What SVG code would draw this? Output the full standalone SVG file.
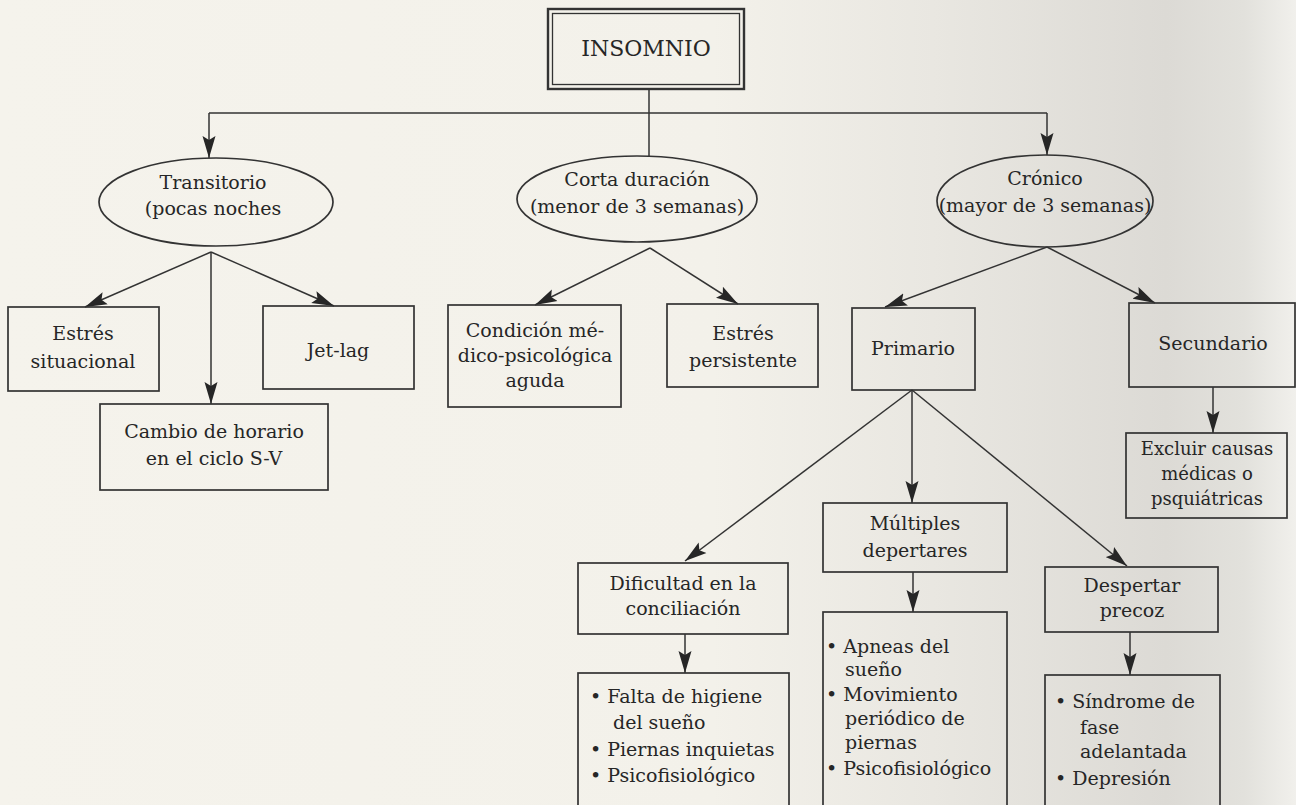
<svg xmlns="http://www.w3.org/2000/svg" width="1296" height="805" viewBox="0 0 1296 805">
<defs>
<linearGradient id="bg" x1="0" y1="0" x2="1296" y2="0" gradientUnits="userSpaceOnUse">
<stop offset="0" stop-color="#f5f3ec"/>
<stop offset="0.55" stop-color="#f3f1ea"/>
<stop offset="0.72" stop-color="#e9e7e1"/>
<stop offset="0.9" stop-color="#dcdad5"/>
<stop offset="0.96" stop-color="#e2e1dc"/>
<stop offset="1" stop-color="#f1f0ec"/>
</linearGradient>
<marker id="ah" markerWidth="23" markerHeight="14" refX="22" refY="7" orient="auto" markerUnits="userSpaceOnUse" viewBox="0 0 23 14">
<path d="M0,0.5 L22,7 L0,13.5 L4,7 Z" fill="#262626"/>
</marker>
<style>
.ln{stroke:#333;stroke-width:1.5;fill:none}
.ar{stroke:#333;stroke-width:1.5;fill:none;marker-end:url(#ah)}
.bx{fill:none;stroke:#333;stroke-width:1.7}
.el{fill:none;stroke:#333;stroke-width:1.7}
text{font-family:"DejaVu Serif","Liberation Serif",serif;font-size:19px;fill:#262626}
.c{text-anchor:middle}
</style>
</defs>
<rect x="0" y="0" width="1296" height="805" fill="url(#bg)"/>

<g id="connectors">
<line class="ln" x1="649" y1="90" x2="649" y2="113"/>
<line class="ln" x1="209" y1="113" x2="1047" y2="113"/>
<line class="ar" x1="209" y1="113" x2="209" y2="158"/>
<line class="ln" x1="649" y1="113" x2="649" y2="156"/>
<line class="ar" x1="1047" y1="113" x2="1047" y2="155"/>
<line class="ar" x1="211" y1="252" x2="85" y2="307"/>
<line class="ar" x1="211" y1="252" x2="211" y2="404"/>
<line class="ar" x1="211" y1="252" x2="334" y2="306"/>
<line class="ar" x1="650" y1="248" x2="535" y2="305"/>
<line class="ar" x1="650" y1="248" x2="738" y2="304"/>
<line class="ar" x1="1047" y1="247" x2="885" y2="307"/>
<line class="ar" x1="1047" y1="247" x2="1155" y2="303"/>
<line class="ar" x1="912" y1="390" x2="685" y2="561"/>
<line class="ar" x1="912" y1="390" x2="912" y2="503"/>
<line class="ar" x1="912" y1="390" x2="1127" y2="566"/>
<line class="ar" x1="1213" y1="387" x2="1213" y2="433"/>
<line class="ar" x1="685" y1="634" x2="685" y2="673"/>
<line class="ar" x1="913" y1="572" x2="913" y2="612"/>
<line class="ar" x1="1130" y1="632" x2="1130" y2="675"/>
</g>

<g id="insomnio">
<rect x="548" y="9" width="196" height="80" fill="none" stroke="#333" stroke-width="2.4"/>
<rect x="552.5" y="13.5" width="187" height="71" fill="none" stroke="#333" stroke-width="1.3"/>
<text class="c" x="646" y="56" style="font-size:22px">INSOMNIO</text>
</g>

<g id="transitorio">
<ellipse class="el" cx="216" cy="202" rx="117" ry="44"/>
<text class="c" x="213" y="189">Transitorio</text>
<text class="c" x="213" y="215">(pocas noches</text>
</g>

<g id="corta">
<ellipse class="el" cx="637" cy="199" rx="120" ry="43"/>
<text class="c" x="637" y="186">Corta duración</text>
<text class="c" x="637" y="213">(menor de 3 semanas)</text>
</g>

<g id="cronico">
<ellipse class="el" cx="1045" cy="201" rx="108" ry="46"/>
<text class="c" x="1045" y="185">Crónico</text>
<text class="c" x="1045" y="212">(mayor de 3 semanas)</text>
</g>

<g id="estres-situacional">
<rect class="bx" x="8" y="307" width="151" height="84"/>
<text class="c" x="83" y="340">Estrés</text>
<text class="c" x="83" y="368">situacional</text>
</g>

<g id="jetlag">
<rect class="bx" x="263" y="306" width="151" height="83"/>
<text class="c" x="338" y="357">Jet-lag</text>
</g>

<g id="cambio">
<rect class="bx" x="100" y="404" width="228" height="86"/>
<text class="c" x="214" y="438">Cambio de horario</text>
<text class="c" x="214" y="465">en el ciclo S-V</text>
</g>

<g id="condicion">
<rect class="bx" x="448" y="305" width="173" height="102"/>
<text class="c" x="535" y="337">Condición mé-</text>
<text class="c" x="535" y="362">dico-psicológica</text>
<text class="c" x="535" y="387">aguda</text>
</g>

<g id="estres-persistente">
<rect class="bx" x="667" y="304" width="151" height="83"/>
<text class="c" x="743" y="340">Estrés</text>
<text class="c" x="743" y="367">persistente</text>
</g>

<g id="primario">
<rect class="bx" x="852" y="308" width="123" height="82"/>
<text class="c" x="913" y="355">Primario</text>
</g>

<g id="secundario">
<rect class="bx" x="1129" y="303" width="166" height="84"/>
<text class="c" x="1213" y="350">Secundario</text>
</g>

<g id="excluir">
<rect class="bx" x="1126" y="433" width="161" height="85"/>
<text class="c" x="1207" y="455" style="font-size:18px">Excluir causas</text>
<text class="c" x="1207" y="480" style="font-size:18px">médicas o</text>
<text class="c" x="1207" y="505" style="font-size:18px">psquiátricas</text>
</g>

<g id="dificultad">
<rect class="bx" x="578" y="563" width="210" height="71"/>
<text class="c" x="683" y="590">Dificultad en la</text>
<text class="c" x="683" y="615">conciliación</text>
</g>

<g id="multiples">
<rect class="bx" x="823" y="503" width="184" height="69"/>
<text class="c" x="915" y="530">Múltiples</text>
<text class="c" x="915" y="557">depertares</text>
</g>

<g id="despertar">
<rect class="bx" x="1045" y="567" width="173" height="65"/>
<text class="c" x="1132" y="592">Despertar</text>
<text class="c" x="1132" y="617">precoz</text>
</g>

<g id="lista-dificultad">
<rect class="bx" x="578" y="673" width="211" height="140"/>
<text x="590" y="703">• Falta de higiene</text>
<text x="613" y="729">del sueño</text>
<text x="590" y="756">• Piernas inquietas</text>
<text x="590" y="782">• Psicofisiológico</text>
</g>

<g id="lista-multiples">
<rect class="bx" x="823" y="612" width="184" height="200"/>
<text x="826" y="653">• Apneas del</text>
<text x="845" y="676">sueño</text>
<text x="826" y="701">• Movimiento</text>
<text x="845" y="725">periódico de</text>
<text x="845" y="749">piernas</text>
<text x="826" y="775">• Psicofisiológico</text>
</g>

<g id="lista-despertar">
<rect class="bx" x="1045" y="675" width="175" height="140"/>
<text x="1055" y="708">• Síndrome de</text>
<text x="1080" y="734">fase</text>
<text x="1080" y="758">adelantada</text>
<text x="1055" y="785">• Depresión</text>
</g>
</svg>
